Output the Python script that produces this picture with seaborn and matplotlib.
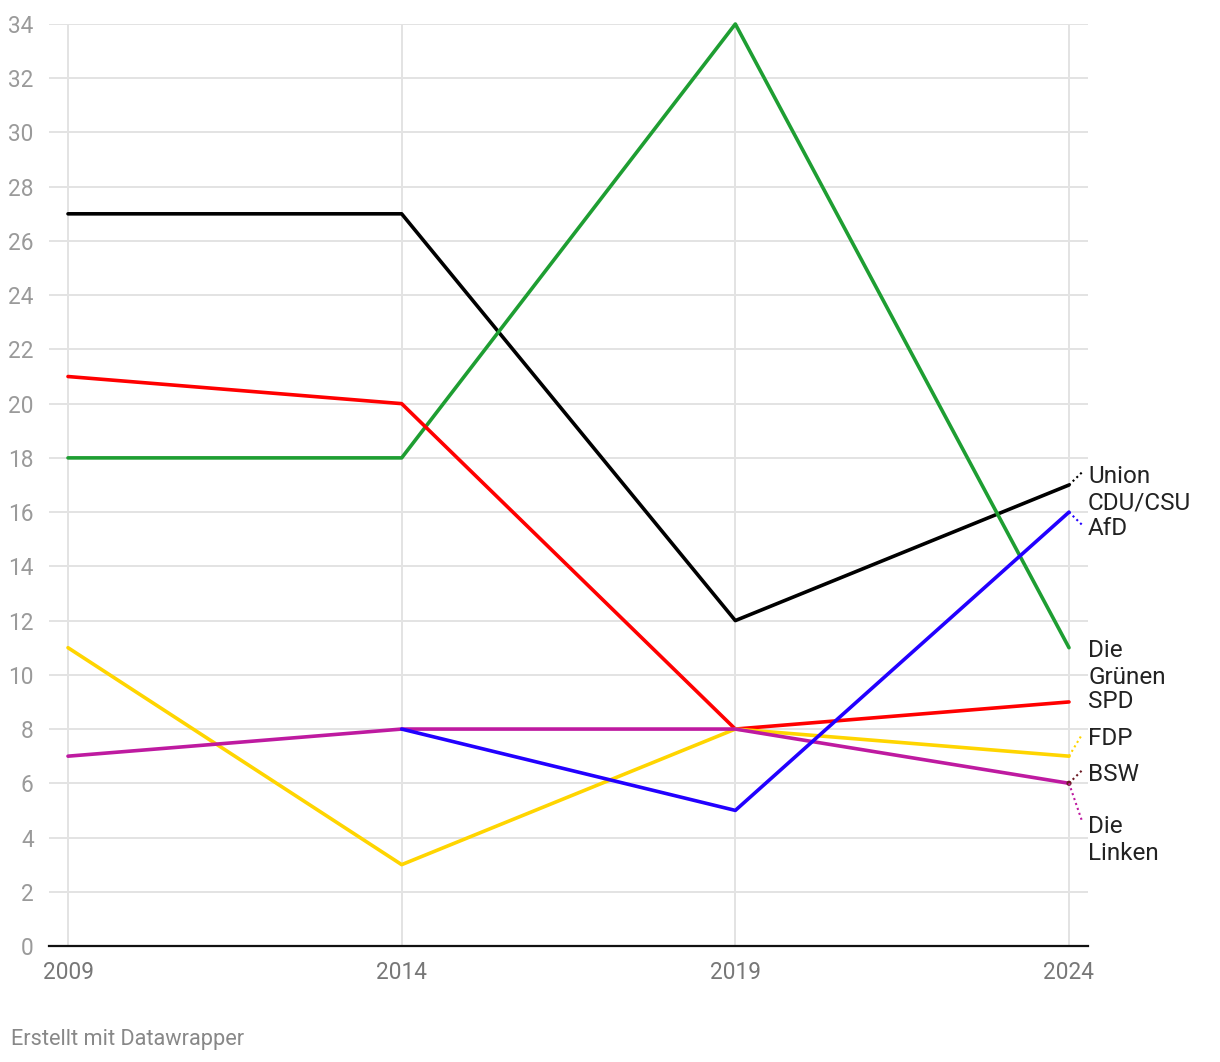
import matplotlib
matplotlib.use("Agg")
import matplotlib.pyplot as plt
import seaborn as sns
import pandas as pd
import numpy as np

years = [2009, 2014, 2019, 2024]
union = [27, 27, 12, 17]
gruene = [18, 18, 34, 11]
spd = [21, 20, 8, 9]
fdp = [11, 3, 8, 7]
linke = [7, 8, 8, 6]
afd = [np.nan, 8, 5, 16]
bsw = [np.nan, np.nan, np.nan, 6]

parties = ["Union CDU/CSU", "Die Grünen", "SPD", "FDP", "Die Linken", "AfD", "BSW"]
values = [union, gruene, spd, fdp, linke, afd, bsw]
colors = {"Union CDU/CSU": "#000000", "Die Grünen": "#1e9e32", "SPD": "#ff0000",
          "FDP": "#ffd500", "Die Linken": "#be1aa0", "AfD": "#2200ff", "BSW": "#6b1a24"}

rows = []
for p, v in zip(parties, values):
    for y, val in zip(years, v):
        rows.append({"year": y, "value": val, "party": p})
df = pd.DataFrame(rows).dropna()

sns.set_theme(style="white")
plt.rcParams['font.family'] = ['Roboto', 'DejaVu Sans']

fig = plt.figure(figsize=(12.2, 10.62), dpi=100)
ax = fig.add_axes([49/1220, 116/1062, 1039/1220, 922/1062])

line_df = df[df.party != "BSW"]
sns.lineplot(data=line_df, x="year", y="value", hue="party", palette=colors,
             hue_order=["Union CDU/CSU", "Die Grünen", "SPD", "FDP", "Die Linken", "AfD"],
             linewidth=2.6, ax=ax, legend=False, clip_on=False, zorder=3)
bsw_df = df[df.party == "BSW"]
sns.scatterplot(data=bsw_df, x="year", y="value", color=colors["BSW"], s=14,
                ax=ax, legend=False, zorder=4, edgecolor="none")

ax.set_xlim(2009 - 19/66.733, 2024 + 19/66.733)
ax.set_ylim(0, 34)
ax.set_yticks(range(0, 35, 2))
ax.set_xticks(years)
ax.grid(True, color="#e3e3e3", linewidth=1.4)
ax.set_axisbelow(True)
for s in ["top", "right", "left"]:
    ax.spines[s].set_visible(False)
ax.spines["bottom"].set_color("#111111")
ax.spines["bottom"].set_linewidth(1.6)
ax.spines["bottom"].set_zorder(5)
ax.tick_params(axis="y", length=0, pad=11, labelsize=16.3, labelcolor="#9a9a9a")
ax.tick_params(axis="x", length=0, pad=11, labelsize=16.3, labelcolor="#777777")
for lab in ax.get_yticklabels():
    lab.set_horizontalalignment("right")
ax.set_xlabel("")
ax.set_ylabel("")

# labels
lab_x = 2024 + 19/66.733
labels = [("Union\nCDU/CSU", 16.83, colors["Union CDU/CSU"], 17, 17.48),
          ("AfD", 15.41, colors["AfD"], 16, 15.52),
          ("Die\nGrünen", 10.40, None, None, None),
          ("SPD", 9.00, None, None, None),
          ("FDP", 7.67, colors["FDP"], 7, 7.82),
          ("BSW", 6.31, colors["BSW"], 6, 6.49),
          ("Die\nLinken", 3.91, colors["Die Linken"], 6, 4.57)]
for text, ly, col, y0, y1 in labels:
    ax.text(lab_x, ly, text, fontsize=17.5, color="#222222", va="center", ha="left",
            linespacing=1.18, clip_on=False)
    if col is not None:
        ax.plot([2024, 2024.2], [y0, y1], color=col, linestyle=(0, (1, 1.5)),
                linewidth=1.5, clip_on=False, zorder=4)

fig.text(11/1220, 1 - 1039/1062, "Erstellt mit Datawrapper", fontsize=15.7,
         color="#888888", va="center", ha="left")

fig.savefig("out.png", dpi=100)
